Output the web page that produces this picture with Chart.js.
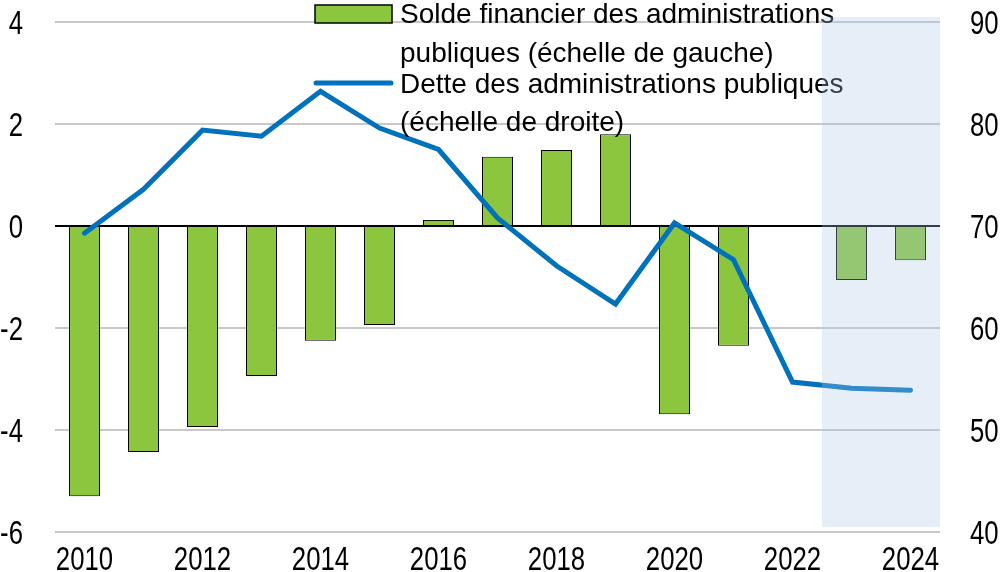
<!DOCTYPE html>
<html>
<head>
<meta charset="utf-8">
<script src="https://cdn.jsdelivr.net/npm/chart.js@4"></script>
<style>
  body { margin: 0; background: #fff; }
  #wrap { width: 1000px; height: 572px; position: relative; }
</style>
</head>
<body>
<div id="wrap"><canvas id="chart" width="1000" height="572"></canvas></div>
<script>
// data
const years = ['2010','2011','2012','2013','2014','2015','2016','2017','2018','2019','2020','2021','2022','2023','2024'];
const balance = [-5.3, -4.43, -3.94, -2.94, -2.25, -1.94, 0.12, 1.36, 1.49, 1.8, -3.69, -2.35, 0.02, -1.06, -0.67];
const debt = [69.3, 73.6, 79.4, 78.8, 83.2, 79.6, 77.5, 70.8, 66.1, 62.35, 70.3, 66.7, 54.7, 54.1, 53.9];
const leftTicks = [-6, -4, -2, 0, 2, 4];
const rightTicks = [40, 50, 60, 70, 80, 90];
const legendLines = [
    ['Solde financier des administrations', 'publiques (échelle de gauche)'],
    ['Dette des administrations publiques', '(échelle de droite)']
];
const firstProjection = '2023';

const green = '#8cc63f';
const blue = '#0072bc';
const font = "'Liberation Sans', Arial, sans-serif";
const squeeze = 0.78; // tick labels are set in a narrow face

// condensed text helper
function narrowText(ctx, text, x, y, align) {
    ctx.save();
    ctx.translate(x, y);
    ctx.scale(squeeze, 1);
    ctx.textAlign = align;
    ctx.fillText(text, 0, 0);
    ctx.restore();
}

// tick labels, legend, then the projection band on top of everything
const overlay = {
    id: 'overlay',
    afterDraw(chart) {
        const ctx = chart.ctx;
        const { x, y, y1 } = chart.scales;
        const area = chart.chartArea;
        ctx.save();
        // tick labels
        ctx.fillStyle = '#000';
        ctx.font = '33px ' + font;
        ctx.textBaseline = 'alphabetic';
        leftTicks.forEach(v => narrowText(ctx, String(v), 23, y.getPixelForValue(v) + 12, 'right'));
        rightTicks.forEach(v => narrowText(ctx, String(v), 970, y1.getPixelForValue(v) + 12, 'left'));
        years.forEach((yr, i) => {
            if (i % 2 === 0) narrowText(ctx, yr, x.getPixelForValue(i), 570, 'center');
        });
        // legend
        ctx.fillStyle = green;
        ctx.strokeStyle = '#000';
        ctx.lineWidth = 1.5;
        ctx.fillRect(315, 5, 77, 18);
        ctx.strokeRect(315, 5, 77, 18);
        ctx.strokeStyle = blue;
        ctx.lineWidth = 5;
        ctx.lineCap = 'round';
        ctx.beginPath();
        ctx.moveTo(316, 83);
        ctx.lineTo(391, 83);
        ctx.stroke();
        ctx.fillStyle = '#000';
        ctx.font = '28px ' + font;
        ctx.textAlign = 'left';
        const baselines = [[23, 62], [93, 131]];
        legendLines.forEach((item, i) => {
            item.forEach((line, j) => ctx.fillText(line, 400, baselines[i][j]));
        });
        // projection band
        const idx = years.indexOf(firstProjection);
        const left = (x.getPixelForValue(idx - 1) + x.getPixelForValue(idx)) / 2;
        ctx.fillStyle = 'rgba(171, 202, 232, 0.3)';
        ctx.fillRect(left, area.top - 5, area.right - left, area.bottom - area.top);
        ctx.restore();
    }
};

const noPad = s => {
    s.paddingTop = 0;
    s.paddingBottom = 0;
    s.paddingLeft = 0;
    s.paddingRight = 0;
};

new Chart(document.getElementById('chart'), {
    type: 'bar',
    data: {
        labels: years,
        datasets: [
            {
                type: 'line',
                data: debt,
                yAxisID: 'y1',
                borderColor: blue,
                borderWidth: 5,
                pointRadius: 0,
                borderCapStyle: 'round',
                borderJoinStyle: 'miter',
                tension: 0,
                order: 0
            },
            {
                type: 'bar',
                data: balance,
                yAxisID: 'y',
                backgroundColor: green,
                borderColor: '#000',
                borderWidth: 1,
                barPercentage: 0.525,
                categoryPercentage: 1,
                order: 1
            }
        ]
    },
    options: {
        responsive: false,
        animation: false,
        layout: { padding: { top: 22, left: 0, right: 0, bottom: 0 } },
        plugins: {
            legend: { display: false },
            tooltip: { enabled: false }
        },
        scales: {
            x: {
                grid: { display: false, drawTicks: false },
                border: { display: false },
                ticks: { display: false },
                afterFit: s => { s.height = 40; noPad(s); }
            },
            y: {
                position: 'left',
                min: leftTicks[0],
                max: leftTicks[leftTicks.length - 1],
                afterBuildTicks: s => { s.ticks = leftTicks.map(v => ({ value: v })); },
                grid: {
                    drawTicks: false,
                    lineWidth: 2,
                    color: c => c.tick && c.tick.value === 0 ? '#000' : '#c8c8c8'
                },
                border: { display: false },
                ticks: { display: false },
                afterFit: s => { s.width = 55; noPad(s); }
            },
            y1: {
                position: 'right',
                min: rightTicks[0],
                max: rightTicks[rightTicks.length - 1],
                afterBuildTicks: s => { s.ticks = rightTicks.map(v => ({ value: v })); },
                grid: { drawOnChartArea: false, drawTicks: false },
                border: { display: false },
                ticks: { display: false },
                afterFit: s => { s.width = 60; noPad(s); }
            }
        }
    },
    plugins: [overlay]
});
</script>
</body>
</html>
